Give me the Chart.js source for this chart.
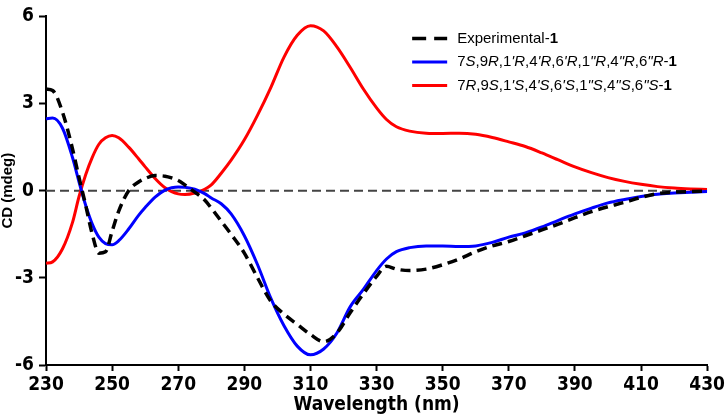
<!DOCTYPE html>
<html>
<head>
<meta charset="utf-8">
<script src="https://cdn.jsdelivr.net/npm/chart.js@4/dist/chart.umd.min.js"></script>
<style>
  html, body { margin: 0; padding: 0; background: #fff; }
</style>
</head>
<body>
<canvas id="chartCD" width="728" height="416"></canvas>
<script>
// longueurs d'onde (nm) communes aux trois courbes
const longueurs = [230, 232, 235, 238, 240, 242, 244, 246, 248, 250, 252, 255, 258, 260, 263, 266, 268, 270, 272, 275,
  278, 280, 283, 286, 290, 294, 298, 302, 306, 310, 314, 318, 322, 326, 330, 333, 336, 340, 345, 350,
  355, 360, 365, 370, 375, 380, 385, 390, 395, 400, 405, 410, 415, 420, 425, 430];

const experimental = [3.5, 3.45, 2.7, 1.45, 0.45, -0.5, -1.5, -2.15, -2.1, -1.4, -0.7, 0.0, 0.3, 0.42, 0.52, 0.5, 0.44, 0.35, 0.2, -0.05,
  -0.32, -0.6, -1.05, -1.5, -2.15, -3.0, -3.8, -4.25, -4.6, -4.95, -5.2, -4.9, -4.2, -3.55, -2.95, -2.6, -2.7, -2.75, -2.7, -2.55,
  -2.35, -2.1, -1.9, -1.75, -1.55, -1.35, -1.15, -0.93, -0.72, -0.55, -0.4, -0.23, -0.1, -0.05, -0.03, -0.02];

const calculSR = [2.48, 2.5, 2.15, 1.15, 0.3, -0.5, -1.15, -1.6, -1.82, -1.86, -1.72, -1.32, -0.85, -0.58, -0.22, 0.02, 0.1, 0.13, 0.12, 0.05,
  -0.1, -0.25, -0.45, -0.8, -1.55, -2.55, -3.7, -4.65, -5.35, -5.65, -5.45, -4.9, -4.0, -3.4, -2.75, -2.35, -2.1, -1.96, -1.9, -1.9,
  -1.92, -1.9, -1.78, -1.6, -1.45, -1.25, -1.02, -0.8, -0.6, -0.42, -0.3, -0.2, -0.12, -0.08, -0.05, -0.03];

const calculRS = [-2.5, -2.45, -2.0, -1.1, -0.2, 0.55, 1.15, 1.6, 1.82, 1.9, 1.82, 1.5, 1.1, 0.82, 0.42, 0.1, -0.03, -0.11, -0.13, -0.08,
  0.05, 0.2, 0.6, 1.05, 1.75, 2.6, 3.55, 4.6, 5.35, 5.68, 5.5, 4.95, 4.25, 3.5, 2.85, 2.45, 2.2, 2.05, 1.98, 1.97,
  1.98, 1.94, 1.83, 1.68, 1.52, 1.3, 1.06, 0.82, 0.62, 0.45, 0.32, 0.22, 0.14, 0.09, 0.06, 0.04];

const etiquettes = [
  "Experimental-1",
  "7S,9R,1'R,4'R,6'R,1\"R,4\"R,6\"R-1",
  "7R,9S,1'S,4'S,6'S,1\"S,4\"S,6\"S-1"
];

const ticksX = [230, 250, 270, 290, 310, 330, 350, 370, 390, 410, 430];
const ticksY = [-6, -3, 0, 3, 6];

const police = "'Liberation Sans', Arial, sans-serif";
const policeEtroite = "'Liberation Sans Narrow', 'DejaVu Sans Condensed', Arial, sans-serif";

function versPoints(valeurs) {
  return longueurs.map((x, i) => ({ x: x, y: valeurs[i] }));
}

// legende dessinee a la main pour avoir les italiques et le 1 en gras
const legendeManuelle = {
  id: "legendeManuelle",
  afterDatasetsDraw(chart) {
    const ctx = chart.ctx;
    const zone = chart.chartArea;
    const x0 = zone.right - 295;
    let y = zone.top + 22;
    chart.data.datasets.forEach(ds => {
      if (!ds.label) return;
      ctx.save();
      ctx.strokeStyle = ds.borderColor;
      ctx.lineWidth = ds.borderWidth;
      ctx.setLineDash(ds.tiretsLegende || []);
      ctx.beginPath();
      ctx.moveTo(x0, y);
      ctx.lineTo(x0 + 35, y);
      ctx.stroke();
      ctx.setLineDash([]);

      ctx.fillStyle = "#000";
      ctx.textBaseline = "middle";
      let x = x0 + 45;
      const texte = ds.label;
      const dernierTiret = texte.lastIndexOf("-");
      for (let i = 0; i < texte.length; i++) {
        const c = texte[i];
        let style = "normal", poids = "normal";
        if ("RS'\"".includes(c)) style = "italic";
        if (i > dernierTiret) poids = "bold";
        ctx.font = style + " " + poids + " 15px " + police;
        ctx.fillText(c, x, y);
        x += ctx.measureText(c).width;
      }
      ctx.restore();
      y += 23.5;
    });
  }
};

new Chart(document.getElementById("chartCD"), {
  type: "line",
  data: {
    datasets: [
      {
        label: etiquettes[0],
        data: versPoints(experimental),
        borderColor: "#000000",
        borderWidth: 3.5,
        borderDash: [10, 6],
        tiretsLegende: [14, 8],
        order: 0
      },
      {
        label: etiquettes[1],
        data: versPoints(calculSR),
        borderColor: "#0000ff",
        borderWidth: 3,
        order: 1
      },
      {
        label: etiquettes[2],
        data: versPoints(calculRS),
        borderColor: "#ff0000",
        borderWidth: 3,
        order: 2
      },
      {
        label: "",
        data: [{ x: 230, y: 0 }, { x: 430, y: 0 }],
        borderColor: "#444444",
        borderWidth: 2,
        borderDash: [9, 5],
        order: 3
      }
    ]
  },
  options: {
    responsive: false,
    animation: false,
    devicePixelRatio: 1,
    elements: {
      point: { radius: 0 },
      line: { cubicInterpolationMode: "monotone", fill: false }
    },
    layout: { padding: { top: 10, right: 16, left: 0, bottom: 0 } },
    plugins: {
      legend: { display: false },
      tooltip: { enabled: false }
    },
    scales: {
      x: {
        type: "linear",
        min: 230,
        max: 430,
        afterBuildTicks: axe => { axe.ticks = ticksX.map(v => ({ value: v })); },
        afterFit: axe => { axe.height = 51; },
        grid: { drawOnChartArea: false, drawTicks: true, tickLength: 6, tickWidth: 2, tickColor: "#000" },
        border: { color: "#000", width: 2 },
        ticks: {
          color: "#000",
          padding: 3,
          maxRotation: 0,
          autoSkip: false,
          font: { family: policeEtroite, size: 19, weight: "bold" }
        },
        title: {
          display: true,
          text: "Wavelength (nm)",
          color: "#000",
          padding: { top: 0, bottom: 0 },
          font: { family: policeEtroite, size: 19, weight: "bold" }
        }
      },
      y: {
        type: "linear",
        min: -6,
        max: 6,
        afterBuildTicks: axe => { axe.ticks = ticksY.map(v => ({ value: v })); },
        afterFit: axe => { axe.width = 46; },
        grid: { drawOnChartArea: false, drawTicks: true, tickLength: 7, tickWidth: 2, tickColor: "#000" },
        border: { color: "#000", width: 2 },
        ticks: {
          color: "#000",
          padding: 5,
          font: { family: policeEtroite, size: 19, weight: "bold" }
        },
        title: {
          display: true,
          text: "CD (mdeg)",
          color: "#000",
          padding: { top: 0, bottom: 0 },
          font: { family: police, size: 15, weight: "bold", lineHeight: 1 }
        }
      }
    }
  },
  plugins: [legendeManuelle]
});
</script>
</body>
</html>
